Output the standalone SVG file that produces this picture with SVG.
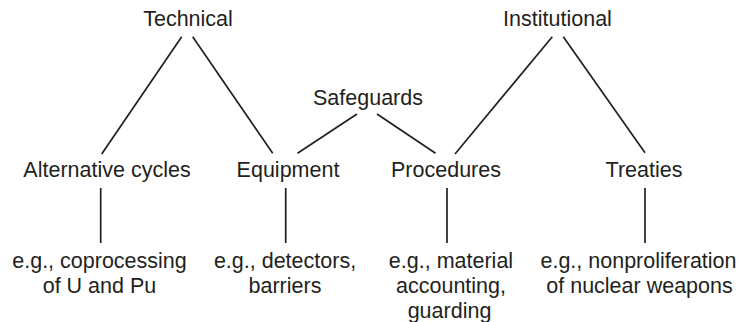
<svg xmlns="http://www.w3.org/2000/svg" width="739" height="322" viewBox="0 0 739 322">
  <style>
    text { font-family: "Liberation Sans", Arial, sans-serif; font-size: 21.5px; fill: #231f20; text-anchor: middle; }
    .edge { stroke: #231f20; stroke-width: 1.7; fill: none; stroke-linecap: butt; }
  </style>
  <rect width="739" height="322" fill="#ffffff"/>

  <!-- connectors -->
  <g id="connectors">
    <line class="edge" x1="181.7" y1="36.7" x2="101.7" y2="154"/>
    <line class="edge" x1="192.7" y1="36.7" x2="272.7" y2="153.3"/>
    <line class="edge" x1="357" y1="114" x2="297.5" y2="153.3"/>
    <line class="edge" x1="377" y1="114" x2="435.5" y2="153.3"/>
    <line class="edge" x1="552.3" y1="36.7" x2="455" y2="154"/>
    <line class="edge" x1="563.3" y1="36.7" x2="645" y2="152.7"/>
    <line class="edge" x1="100.7" y1="188" x2="100.7" y2="243"/>
    <line class="edge" x1="285.7" y1="188" x2="285.7" y2="243"/>
    <line class="edge" x1="447" y1="188" x2="447" y2="243"/>
    <line class="edge" x1="645" y1="188" x2="645" y2="243"/>
  </g>

  <!-- top level -->
  <g id="technical"><text x="188" y="26">Technical</text></g>
  <g id="institutional"><text x="557.5" y="26">Institutional</text></g>
  <g id="safeguards"><text x="368" y="105">Safeguards</text></g>

  <!-- second level -->
  <g id="alternative-cycles"><text x="107" y="177">Alternative cycles</text></g>
  <g id="equipment"><text x="288" y="177">Equipment</text></g>
  <g id="procedures"><text x="446" y="177">Procedures</text></g>
  <g id="treaties"><text x="644" y="177">Treaties</text></g>

  <!-- examples -->
  <g id="ex-coprocessing">
    <text x="99.5" y="268">e.g., coprocessing</text>
    <text x="99.5" y="293">of U and Pu</text>
  </g>
  <g id="ex-detectors">
    <text x="285" y="268">e.g., detectors,</text>
    <text x="285" y="293">barriers</text>
  </g>
  <g id="ex-accounting">
    <text x="451" y="268">e.g., material</text>
    <text x="451" y="293">accounting,</text>
    <text x="449.5" y="317.5">guarding</text>
  </g>
  <g id="ex-nonproliferation">
    <text x="638.5" y="268">e.g., nonproliferation</text>
    <text x="639.5" y="293">of nuclear weapons</text>
  </g>
</svg>
